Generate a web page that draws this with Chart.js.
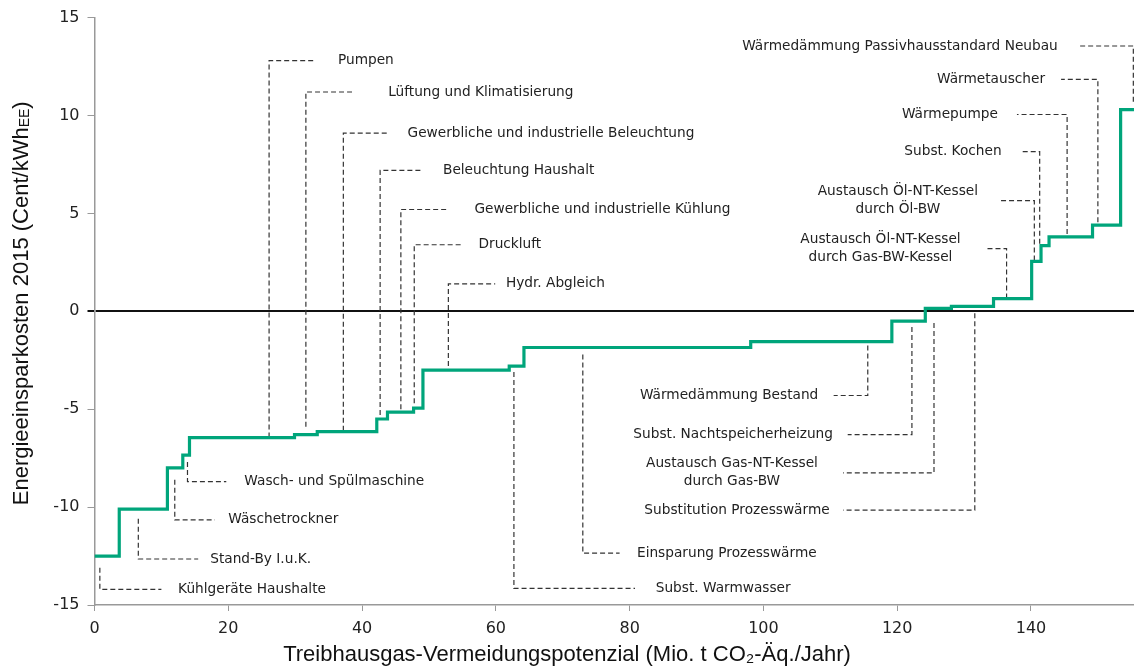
<!DOCTYPE html>
<html lang="de">
<head>
<meta charset="utf-8">
<title>Energieeinsparkosten</title>
<script src="https://cdn.jsdelivr.net/npm/chart.js@4.4.1/dist/chart.umd.min.js"></script>
<style>
  html, body { margin: 0; padding: 0; background: #fff; }
  #wrap { width: 1134px; height: 667px; }
</style>
</head>
<body>
<div id="wrap"><canvas id="costChart" width="1134" height="667"></canvas></div>
<script>
// step curve: each level starts at stepX[i]
const stepX = [0, 3.7, 10.9, 13.2, 14.2, 29.9, 33.3, 42.2, 43.8, 47.7, 49.1, 62.0, 64.2, 98.1, 119.2, 124.2, 128.1, 134.4, 140.1, 141.5, 142.7, 149.2, 153.4, 155.4];
const stepY = [-12.5, -10.1, -8.0, -7.35, -6.45, -6.3, -6.15, -5.5, -5.15, -4.95, -3.0, -2.8, -1.85, -1.55, -0.5, 0.15, 0.25, 0.65, 2.55, 3.35, 3.8, 4.4, 10.3, 10.3];
const xTicks = [0, 20, 40, 60, 80, 100, 120, 140];
const yTicks = [-15, -10, -5, 0, 5, 10, 15];
const xMax = 155.4;

// measures and their leader lines (data units)
const measureNames = [
  "Kühlgeräte Haushalte",
  "Stand-By I.u.K.",
  "Wäschetrockner",
  "Wasch- und Spülmaschine",
  "Pumpen",
  "Lüftung und Klimatisierung",
  "Gewerbliche und industrielle Beleuchtung",
  "Beleuchtung Haushalt",
  "Gewerbliche und industrielle Kühlung",
  "Druckluft",
  "Hydr. Abgleich",
  "Subst. Warmwasser",
  "Einsparung Prozesswärme",
  "Wärmedämmung Bestand",
  "Subst. Nachtspeicherheizung",
  "Austausch Gas-NT-Kessel\ndurch Gas-BW",
  "Substitution Prozesswärme",
  "Austausch Öl-NT-Kessel\ndurch Gas-BW-Kessel",
  "Austausch Öl-NT-Kessel\ndurch Öl-BW",
  "Subst. Kochen",
  "Wärmepumpe",
  "Wärmetauscher",
  "Wärmedämmung Passivhausstandard Neubau",
];
const leaderX    = [0.8, 6.55, 12.0, 13.9, 26.1, 31.6, 37.2, 42.7, 45.8, 47.8, 52.9, 62.7, 73.0, 115.6, 122.2, 125.5, 131.6, 136.35, 140.5, 141.3, 145.4, 150.0, 155.3];
const leaderFrom = [-13.1, -10.6, -8.6, -7.7, -6.45, -5.9, -6.1, -5.3, -5.0, -4.7, -2.8, -3.1, -2.2, -1.75, -0.8, -0.6, -0.1, 0.65, 2.6, 3.45, 3.95, 4.55, 10.7];
const leaderTo   = [-14.2, -12.65, -10.65, -8.7, 12.8, 11.2, 9.1, 7.2, 5.2, 3.4, 1.4, -14.15, -12.35, -4.3, -6.3, -8.25, -10.15, 3.2, 5.65, 8.15, 10.05, 11.85, 13.55];
const leaderEnd  = [10.0, 15.5, 18.0, 19.7, 33.1, 38.5, 43.8, 48.9, 53.0, 54.8, 59.9, 80.8, 78.5, 110.5, 112.6, 111.9, 111.9, 133.1, 135.35, 138.5, 137.9, 144.5, 147.0];
const labelX     = [12.5, 17.3, 20.0, 22.4, 36.4, 43.9, 46.8, 52.1, 56.8, 57.4, 61.5, 83.9, 81.1, 108.2, 110.4, 95.3, 109.9, 117.5, 120.1, 135.6, 135.05, 142.1, 144.0];

const X_TITLE = "Treibhausgas-Vermeidungspotenzial (Mio. t CO\u2082-Äq./Jahr)";
const Y_TITLE = "Energieeinsparkosten 2015 (Cent/kWh";
const Y_TITLE_SUB = "EE";

const GREEN = "#00a57b";
const LABEL_FONT = '13.7px "DejaVu Sans"';
const TITLE_FONT = '22px "Liberation Sans"';
const SUB_FONT = '14px "Liberation Sans"';

const curve = stepX.map((x, i) => ({ x, y: stepY[i] }));

const leaderSets = measureNames.map((name, i) => ({
  label: name,
  data: [
    { x: leaderX[i], y: leaderFrom[i] },
    { x: leaderX[i], y: leaderTo[i] },
    { x: leaderEnd[i], y: leaderTo[i] },
  ],
  borderColor: "#333",
  borderWidth: 1.2,
  borderDash: [5, 3],
  pointRadius: 0,
  tension: 0,
}));

const labelPlugin = {
  id: "measureLabels",
  afterDatasetsDraw(chart) {
    const { ctx, scales: { x, y } } = chart;
    ctx.save();
    ctx.font = LABEL_FONT;
    ctx.fillStyle = "#222";
    ctx.textBaseline = "middle";
    measureNames.forEach((name, i) => {
      const lines = name.split("\n");
      let align = leaderEnd[i] > leaderX[i] ? "left" : "right";
      if (lines.length > 1) align = "center";
      ctx.textAlign = align;
      const px = x.getPixelForValue(labelX[i]);
      const py = y.getPixelForValue(leaderTo[i]);
      lines.forEach((line, k) => {
        ctx.fillText(line, px, py + (k - (lines.length - 1) / 2) * 18);
      });
    });
    ctx.restore();
  },
};

const titlePlugin = {
  id: "axisTitles",
  afterDraw(chart) {
    const { ctx, chartArea } = chart;
    ctx.save();
    ctx.fillStyle = "#111";
    ctx.font = TITLE_FONT;
    ctx.textAlign = "center";
    ctx.textBaseline = "middle";
    ctx.fillText(X_TITLE, chart.width / 2, chartArea.bottom + 50);

    // y title with small "EE" subscript
    const w1 = ctx.measureText(Y_TITLE).width;
    ctx.font = SUB_FONT;
    const w2 = ctx.measureText(Y_TITLE_SUB).width;
    ctx.font = TITLE_FONT;
    const w3 = ctx.measureText(")").width;
    const total = w1 + w2 + w3;
    ctx.translate(20, (chartArea.top + chartArea.bottom) / 2 - 8);
    ctx.rotate(-Math.PI / 2);
    ctx.textAlign = "left";
    ctx.textBaseline = "alphabetic";
    let pos = -total / 2;
    ctx.fillText(Y_TITLE, pos, 8);
    pos += w1;
    ctx.font = SUB_FONT;
    ctx.fillText(Y_TITLE_SUB, pos, 9);
    pos += w2;
    ctx.font = TITLE_FONT;
    ctx.fillText(")", pos, 8);
    ctx.restore();
  },
};

const tickFont = { family: "DejaVu Sans", size: 16 };

new Chart(document.getElementById("costChart"), {
  type: "line",
  data: {
    datasets: [
      {
        label: "Energieeinsparkosten",
        data: curve,
        stepped: "before",
        borderColor: GREEN,
        borderWidth: 3.2,
        pointRadius: 0,
        fill: false,
      },
      ...leaderSets,
    ],
  },
  options: {
    responsive: false,
    animation: false,
    events: [],
    layout: { padding: { top: 16, right: 0, bottom: 0, left: 0 } },
    plugins: { legend: { display: false }, tooltip: { enabled: false } },
    scales: {
      x: {
        type: "linear",
        min: 0,
        max: xMax,
        afterBuildTicks: (s) => { s.ticks = xTicks.map((v) => ({ value: v })); },
        afterFit: (s) => { s.height = 62; },
        grid: { drawOnChartArea: false, drawTicks: true, tickLength: 6, color: "#999" },
        border: { color: "#999", width: 1.5 },
        ticks: { font: tickFont, color: "#222", padding: 8, maxRotation: 0 },
      },
      y: {
        type: "linear",
        min: -15,
        max: 15,
        afterBuildTicks: (s) => { s.ticks = yTicks.map((v) => ({ value: v })); },
        afterFit: (s) => { s.width = 94.5; },
        grid: {
          drawTicks: true,
          tickLength: 7,
          color: (c) => (c.tick && c.tick.value === 0 ? "#111" : "rgba(0,0,0,0)"),
          lineWidth: (c) => (c.tick && c.tick.value === 0 ? 2 : 1),
          tickColor: (c) => (c.tick && c.tick.value === 0 ? "#111" : "#999"),
        },
        border: { color: "#999", width: 1.5 },
        ticks: { font: tickFont, color: "#222", padding: 8 },
      },
    },
  },
  plugins: [labelPlugin, titlePlugin],
});
</script>
</body>
</html>
